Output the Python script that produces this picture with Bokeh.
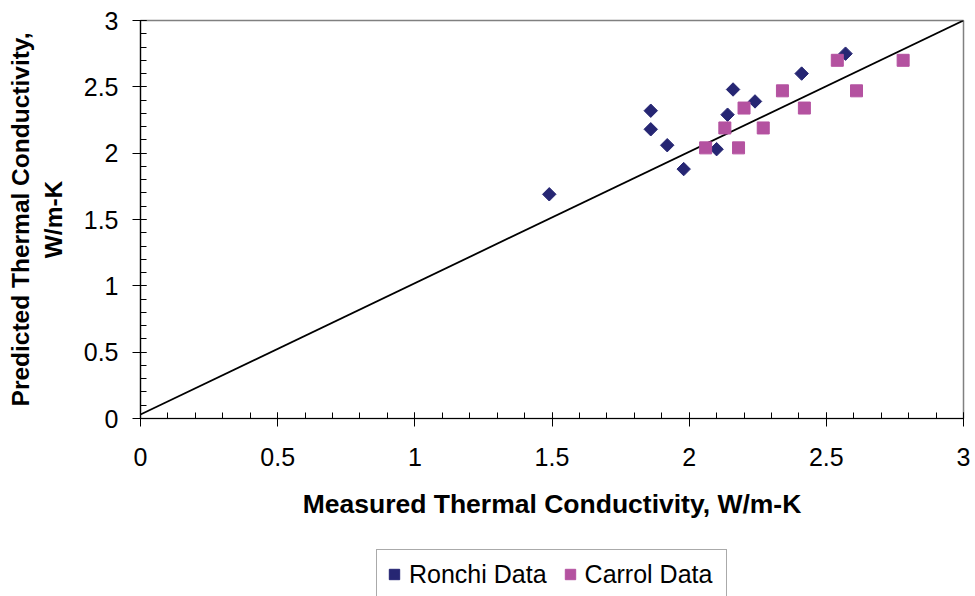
from bokeh.plotting import figure
from bokeh.layouts import column
from bokeh.models import Range1d, FixedTicker, Legend, LegendItem
from bokeh.embed import file_html
from bokeh.resources import INLINE
import math

# Data
ronchi_measured = [1.49, 1.86, 1.86, 1.92, 1.98, 2.10, 2.14, 2.16, 2.24, 2.41, 2.57]
ronchi_predicted = [1.69, 2.32, 2.18, 2.06, 1.88, 2.03, 2.29, 2.48, 2.39, 2.60, 2.75]
carrol_measured = [2.06, 2.13, 2.18, 2.20, 2.27, 2.34, 2.42, 2.54, 2.61, 2.78]
carrol_predicted = [2.04, 2.19, 2.04, 2.34, 2.19, 2.47, 2.34, 2.70, 2.47, 2.70]
line_x = [0.0, 3.0]
line_y = [0.03, 3.0]
major_ticks = [0, 0.5, 1, 1.5, 2, 2.5, 3]
tick_labels = ["0", "0.5", "1", "1.5", "2", "2.5", "3"]
minor_ticks = [i / 10 for i in range(0, 31)]
series_names = ["Ronchi Data", "Carrol Data"]
series_colors = ["#262673", "#B452A0"]

FONT = "Liberation Sans"

p = figure(width=975, height=540, output_backend="svg", toolbar_location=None,
           x_range=Range1d(0, 3), y_range=Range1d(0, 3),
           min_border_left=140, min_border_right=12, min_border_top=20, min_border_bottom=122)

p.xgrid.visible = False
p.ygrid.visible = False
p.outline_line_color = "#808080"
p.outline_line_width = 1.5
p.background_fill_color = "white"
p.border_fill_color = "white"

overrides = {t: l for t, l in zip(major_ticks, tick_labels)}
for ax in (p.xaxis[0], p.yaxis[0]):
    ax.ticker = FixedTicker(ticks=major_ticks, minor_ticks=minor_ticks)
    ax.major_label_overrides = overrides
    ax.axis_line_color = "black"
    ax.axis_line_width = 1.2
    ax.major_tick_line_color = "black"
    ax.minor_tick_line_color = "black"
    ax.major_tick_out = 8
    ax.major_tick_in = 6
    ax.minor_tick_in = 6
    ax.minor_tick_out = 0
    ax.major_label_text_font = FONT
    ax.major_label_text_font_size = "25px"
    ax.major_label_text_color = "black"
    ax.axis_label_text_font = FONT
    ax.axis_label_text_font_style = "bold"
    ax.axis_label_text_color = "black"

p.xaxis.axis_label = "Measured Thermal Conductivity, W/m-K"
p.xaxis.axis_label_text_font_size = "26.5px"
p.xaxis.major_label_standoff = 21
p.xaxis.axis_label_standoff = 20
p.yaxis.axis_label = "Predicted Thermal Conductivity,\nW/m-K"
p.yaxis.axis_label_text_font_size = "24.5px"
p.yaxis.major_label_standoff = 14
p.yaxis.axis_label_standoff = 14
p.yaxis.axis_label_text_line_height = 1.2
p.yaxis.axis_label_text_align = "center"

p.line(line_x, line_y, line_color="black", line_width=1.8)

p.scatter(ronchi_measured, ronchi_predicted, marker="square", size=9.5,
          angle=math.pi / 4, fill_color=series_colors[0], line_color=series_colors[0])
p.scatter(carrol_measured, carrol_predicted, marker="square", size=12,
          fill_color=series_colors[1], line_color=series_colors[1])

# Legend strip below the chart (same series styling, glyphs kept out of view)
lg = figure(width=975, height=56, output_backend="svg", toolbar_location=None,
            x_range=Range1d(100, 101), y_range=Range1d(100, 101),
            x_axis_type=None, y_axis_type=None,
            min_border_left=0, min_border_right=0, min_border_top=0, min_border_bottom=0)
lg.xgrid.visible = False
lg.ygrid.visible = False
lg.outline_line_color = None
lg.background_fill_color = "white"
lg.border_fill_color = "white"

l1 = lg.scatter(ronchi_measured, ronchi_predicted, marker="square", size=9.5,
                angle=math.pi / 4, fill_color=series_colors[0], line_color=series_colors[0])
l2 = lg.scatter(carrol_measured, carrol_predicted, marker="square", size=12,
                fill_color=series_colors[1], line_color=series_colors[1])

legend = Legend(items=[LegendItem(label=series_names[0], renderers=[l1]),
                       LegendItem(label=series_names[1], renderers=[l2])],
                orientation="horizontal", location=(236, -3),
                label_text_font=FONT, label_text_font_size="25px",
                label_text_color="black", label_height=40, label_width=137,
                border_line_color="#555555", border_line_width=1,
                padding=4, spacing=10, glyph_width=26, glyph_height=40,
                label_standoff=2, margin=0, background_fill_alpha=1)
lg.add_layout(legend, "center")

layout = column(p, lg, spacing=0)
open("out.html", "w").write(file_html(layout, INLINE))
